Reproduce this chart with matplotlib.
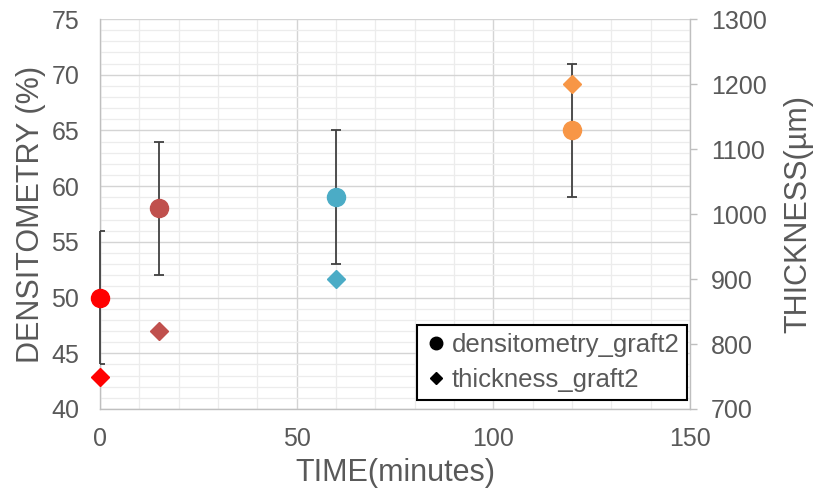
import numpy as np
import matplotlib.pyplot as plt
from matplotlib.lines import Line2D
from matplotlib.ticker import MultipleLocator

plt.rcParams['font.family'] = ['Liberation Sans', 'DejaVu Sans']

# data
time_min = [0, 15, 60, 120]
densitometry = [50, 58, 59, 65]
dens_err = [6, 6, 6, 6]
thickness = [750, 820, 900, 1200]
point_colors = ['#FF0000', '#C0504D', '#4BACC6', '#F79646']

txt = '#595959'

fig = plt.figure(figsize=(8.16, 4.91), dpi=100)
ax1 = fig.add_axes([100 / 816, 1 - 409 / 491, 590 / 816, 390 / 491])
ax2 = ax1.twinx()

for t, d, e, c in zip(time_min, densitometry, dens_err, point_colors):
    eb = ax1.errorbar(t, d, yerr=e, fmt='none', ecolor='#404040', elinewidth=1.3,
                      capsize=3.3, capthick=1.3, zorder=3)
    for bl in eb[2]:
        bl.set_clip_on(False)
    ax1.plot(t, d, 'o', color=c, markersize=13, zorder=4, clip_on=False)

for t, th, c in zip(time_min, thickness, point_colors):
    ax2.plot(t, th, 'D', color=c, markersize=9, zorder=4, clip_on=False)

ax1.set_xlim(0, 150)
ax1.set_ylim(40, 75)
ax2.set_ylim(700, 1300)

ax1.xaxis.set_major_locator(MultipleLocator(50))
ax1.xaxis.set_minor_locator(MultipleLocator(10))
ax1.yaxis.set_major_locator(MultipleLocator(5))
ax1.yaxis.set_minor_locator(MultipleLocator(1))
ax2.yaxis.set_major_locator(MultipleLocator(100))

ax1.grid(which='major', color='#D4D4D4', linewidth=1.0)
ax1.grid(which='minor', color='#ECECEC', linewidth=0.9)
ax1.set_axisbelow(True)

for ax in (ax1, ax2):
    for s in ax.spines.values():
        s.set_color('#BFBFBF')
        s.set_linewidth(1.0)
    ax.spines['top'].set_visible(False)
ax2.spines['left'].set_visible(False)
ax2.spines['bottom'].set_visible(False)
ax1.spines['right'].set_visible(False)

ax1.tick_params(axis='x', which='both', length=0, pad=13, labelsize=18, labelcolor=txt)
ax1.tick_params(axis='y', which='both', length=0, pad=15, labelsize=18, labelcolor=txt)
ax2.tick_params(axis='y', which='major', length=5, width=1, color='#BFBFBF',
                pad=10, labelsize=18, labelcolor=txt)

ax1.set_xlabel('TIME(minutes)', fontsize=22, color=txt, labelpad=5)
ax1.set_ylabel('DENSITOMETRY (%)', fontsize=22, color=txt, labelpad=4)
ax2.set_ylabel('THICKNESS(µm)', fontsize=22, color=txt, labelpad=12)

handles = [
    Line2D([], [], marker='o', color='black', linestyle='none', markersize=9),
    Line2D([], [], marker='D', color='black', linestyle='none', markersize=6),
]
leg = ax2.legend(handles, ['densitometry_graft2', 'thickness_graft2'],
                 loc='lower right', bbox_to_anchor=(0.995, 0.023), fontsize=18.5,
                 frameon=True, fancybox=False, framealpha=1, edgecolor='black',
                 handletextpad=0.15, handlelength=0.9, borderpad=0.3,
                 labelspacing=0.45, labelcolor=txt, borderaxespad=0)
leg.get_frame().set_linewidth(1.5)
leg.set_zorder(10)

fig.savefig('out.png', dpi=100)
